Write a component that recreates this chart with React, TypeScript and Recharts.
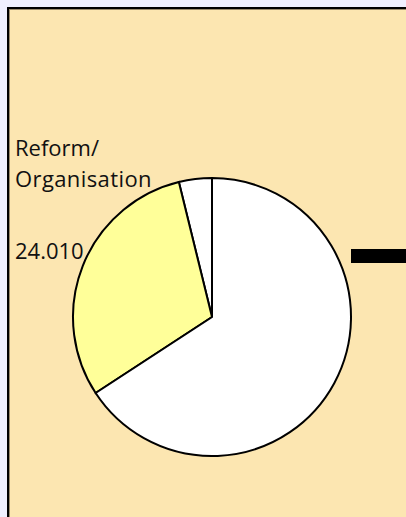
import React from "react";
import { PieChart, Pie, Cell } from "recharts";

const categories = ["Sonstige", "Reform/ Organisation", "Übrige"];
const values = [3030, 24010, 52000];
const sliceColors = ["#FFFFFF", "#FFFF99", "#FFFFFF"];
const labelLines = ["Reform/", "Organisation"];
const valueLabel = "24.010";

const data = categories.map((name, i) => ({ name, value: values[i] }));

const FONT = "'Open Sans', sans-serif";

const renderLabel = (props: any) => {
  const { index, cx, cy, outerRadius } = props;
  if (index !== 1) return null;
  const x = cx - outerRadius - 58;
  return (
    <g>
      <text x={x} y={cy - 161} fontFamily={FONT} fontSize={22} fill="#111">
        {labelLines[0]}
      </text>
      <text x={x} y={cy - 130} fontFamily={FONT} fontSize={22} letterSpacing={0.4} fill="#111">
        {labelLines[1]}
      </text>
      <text x={x} y={cy - 58} fontFamily={FONT} fontSize={22} fill="#111">
        {valueLabel}
      </text>
    </g>
  );
};

export default function App() {
  return (
    <div
      style={{
        position: "absolute",
        left: 0,
        top: 0,
        width: 406,
        height: 517,
        background: "#F0F0FF",
        overflow: "hidden",
      }}
    >
      <div
        style={{
          position: "absolute",
          left: 7,
          top: 7,
          width: 420,
          height: 530,
          background: "#FCE6B1",
          borderLeft: "2px solid #000",
          borderTop: "2px solid #000",
          boxShadow: "inset 1px 1px 0 #9a8a6a",
        }}
      />
      <div
        style={{
          position: "absolute",
          left: 351,
          top: 249,
          width: 60,
          height: 14,
          background: "#000",
        }}
      />
      <div style={{ position: "absolute", left: 0, top: 0 }}>
        <PieChart width={406} height={517} margin={{ top: 0, right: 0, bottom: 0, left: 0 }}>
          <Pie
            data={data}
            dataKey="value"
            nameKey="name"
            cx={212}
            cy={317}
            outerRadius={139}
            startAngle={90}
            endAngle={450}
            stroke="#000"
            strokeWidth={2}
            label={renderLabel}
            labelLine={false}
            isAnimationActive={false}
          >
            {data.map((d, i) => (
              <Cell key={d.name} fill={sliceColors[i]} />
            ))}
          </Pie>
        </PieChart>
      </div>
    </div>
  );
}
